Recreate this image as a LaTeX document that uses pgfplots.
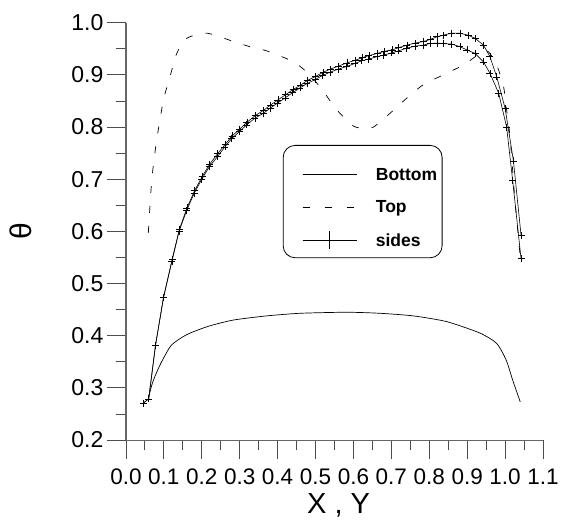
\documentclass[border=0pt]{standalone}
\usepackage{pgfplots}
\pgfplotsset{compat=1.18}
\usepackage{fontspec}
\setmainfont{Liberation Sans}
\pgfplotsset{
  leglinefirst/.style={legend image code/.code={\path (-16pt,0pt) (0pt,21pt); \draw[##1] (0pt,0pt) -- (54pt,0pt);}},
  legline/.style={legend image code/.code={\path (-16pt,0pt); \draw[##1] (0pt,0pt) -- (54pt,0pt);}},
  legcross/.style={legend image code/.code={\path (-16pt,0pt); \draw[##1] (0pt,0pt) -- (54pt,0pt); \draw[##1] (27pt,-9pt) -- (27pt,9pt);}},
}

\begin{document}
\begin{tikzpicture}
\begin{axis}[
  scale only axis, width=417pt, height=417.3pt,
  xmin=0, xmax=1.1, ymin=0.2, ymax=1.0,
  axis x line=bottom, axis y line=left,
  axis line style={-, black!60, line width=1.1pt},
  xtick={0,0.1,0.2,0.3,0.4,0.5,0.6,0.7,0.8,0.9,1.0,1.1},
  ytick={0.2,0.3,0.4,0.5,0.6,0.7,0.8,0.9,1.0},
  minor x tick num=1, minor y tick num=1,
  tick align=outside,
  major tick length=19pt, minor tick length=10pt,
  every tick/.style={black!70, line width=0.9pt},
  /pgf/number format/assume math mode=true,
  /pgf/number format/fixed, /pgf/number format/fixed zerofill, /pgf/number format/precision=1,
  tick label style={font=\fontsize{23}{23}\selectfont},
  xticklabel style={font=\fontsize{22.5}{22.5}\selectfont, inner sep=0pt, yshift=-10pt},
  xlabel={X , Y},
  xlabel style={font=\fontsize{29}{29}\selectfont, inner sep=0pt, at={(axis description cs:0.51,-0.1285)}, anchor=north},
  ylabel={\fontsize{30}{30}\selectfont θ},
  ylabel style={at={(axis description cs:-0.252,0.5)}, anchor=center},
  legend style={at={(0.376,0.707)}, anchor=north west, draw=black, line width=0.8pt,
    rounded corners=12pt, font=\bfseries\fontsize{17.5}{17.5}\selectfont,
    inner xsep=3pt, inner ysep=8pt, row sep=15pt, column sep=17pt},
  legend cell align=left,
]
\addplot[black, line width=0.7pt, smooth, tension=0.4, forget plot] coordinates {
(0.059,0.280)(0.068,0.305)(0.077,0.323)(0.094,0.350)(0.120,0.382)(0.160,0.402)(0.217,0.418)(0.283,0.430)(0.371,0.438)(0.459,0.443)(0.582,0.445)(0.670,0.443)(0.758,0.438)(0.846,0.427)(0.934,0.405)(0.978,0.385)(1.003,0.353)(1.020,0.315)(1.040,0.273)
};
\addplot[black, line width=0.7pt, dash pattern=on 7pt off 13pt, smooth, tension=0.4, forget plot] coordinates {
(0.059,0.597)(0.068,0.698)(0.081,0.775)(0.099,0.852)(0.116,0.896)(0.134,0.941)(0.160,0.970)(0.213,0.980)(0.283,0.964)(0.327,0.954)(0.371,0.946)(0.442,0.925)(0.485,0.900)(0.521,0.868)(0.556,0.833)(0.600,0.802)(0.630,0.797)(0.653,0.800)(0.699,0.828)(0.740,0.855)(0.784,0.881)(0.837,0.900)(0.890,0.919)(0.934,0.941)(0.955,0.945)(0.978,0.919)(0.996,0.877)(1.004,0.833)(1.013,0.781)(1.026,0.660)(1.040,0.551)
};
\addplot[black, line width=0.6pt, mark=+, mark size=3.5pt, forget plot] coordinates {
(0.046,0.271)(0.060,0.279)(0.078,0.382)(0.099,0.473)(0.121,0.542)(0.140,0.600)(0.160,0.640)(0.180,0.673)(0.200,0.700)(0.220,0.724)(0.241,0.743)(0.261,0.762)(0.279,0.778)(0.299,0.791)(0.318,0.804)(0.340,0.817)(0.362,0.826)(0.380,0.836)(0.400,0.846)(0.420,0.856)(0.440,0.866)(0.459,0.875)(0.477,0.883)(0.499,0.891)(0.519,0.899)(0.538,0.905)(0.560,0.911)(0.582,0.916)(0.604,0.922)(0.622,0.927)(0.640,0.930)(0.662,0.935)(0.680,0.938)(0.701,0.942)(0.718,0.946)(0.740,0.951)(0.762,0.955)(0.784,0.957)(0.802,0.960)(0.820,0.961)(0.837,0.960)(0.859,0.959)(0.881,0.954)(0.899,0.948)(0.921,0.941)(0.943,0.925)(0.960,0.903)(0.983,0.865)(1.004,0.800)(1.020,0.697)(1.042,0.548)
};
\addplot[black, line width=0.6pt, mark=+, mark size=3.5pt, forget plot] coordinates {
(0.046,0.271)(0.060,0.279)(0.078,0.382)(0.099,0.473)(0.122,0.547)(0.141,0.604)(0.161,0.645)(0.181,0.678)(0.201,0.705)(0.221,0.729)(0.242,0.749)(0.262,0.767)(0.280,0.783)(0.300,0.796)(0.319,0.809)(0.341,0.822)(0.363,0.832)(0.381,0.842)(0.401,0.852)(0.421,0.862)(0.441,0.872)(0.460,0.880)(0.478,0.889)(0.500,0.897)(0.520,0.905)(0.539,0.911)(0.561,0.917)(0.583,0.923)(0.605,0.928)(0.623,0.933)(0.641,0.937)(0.663,0.941)(0.681,0.945)(0.702,0.948)(0.719,0.952)(0.741,0.957)(0.763,0.961)(0.785,0.964)(0.803,0.968)(0.820,0.973)(0.837,0.976)(0.859,0.980)(0.881,0.980)(0.903,0.976)(0.921,0.970)(0.943,0.957)(0.960,0.935)(0.978,0.896)(1.000,0.836)(1.022,0.735)(1.042,0.593)
};
\addlegendimage{black, line width=0.7pt, leglinefirst}
\addlegendentry{Bottom}
\addlegendimage{black, line width=0.7pt, dash pattern=on 7pt off 15pt, legline}
\addlegendentry{Top}
\addlegendimage{black, line width=0.7pt, legcross}
\addlegendentry{sides}
\coordinate (bbA) at (rel axis cs:-0.302,-0.1917);
\coordinate (bbB) at (rel axis cs:1.0695,1.0544);
\end{axis}
\pgfresetboundingbox
\path[use as bounding box] (bbA) rectangle (bbB);
\end{tikzpicture}
\end{document}
